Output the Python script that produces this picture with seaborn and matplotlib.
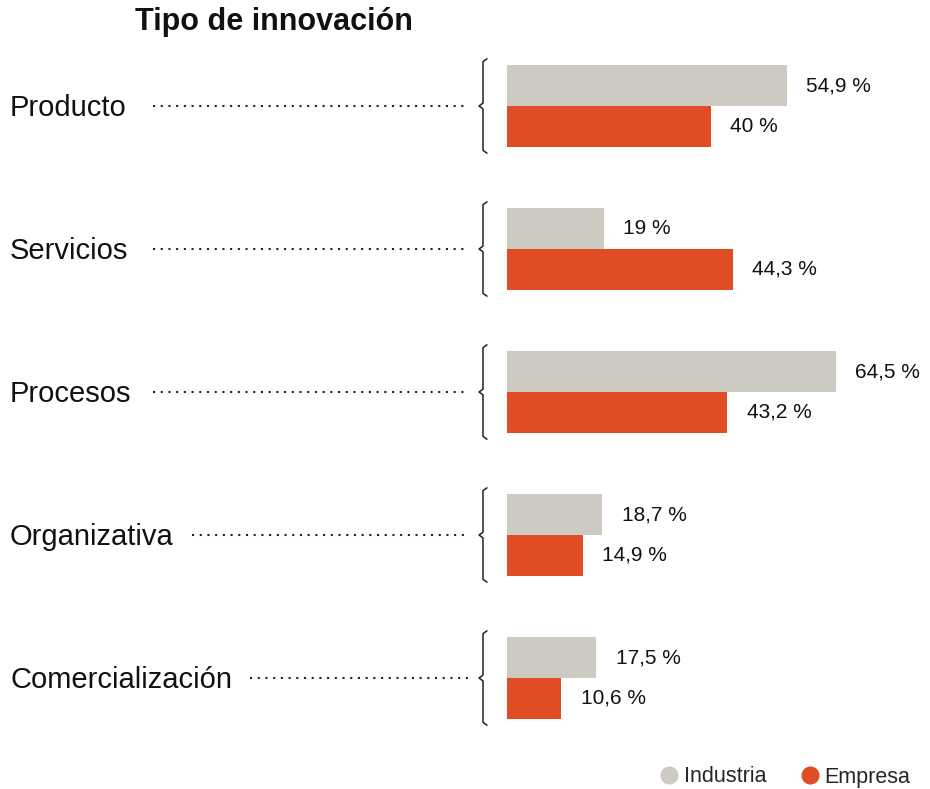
import numpy as np
import pandas as pd
import matplotlib
matplotlib.use("Agg")
import matplotlib.pyplot as plt
import matplotlib.transforms as mtransforms
from matplotlib.lines import Line2D
import seaborn as sns

# data
tipos = ["Producto", "Servicios", "Procesos", "Organizativa", "Comercialización"]
industria = [54.9, 19.0, 64.5, 18.7, 17.5]
empresa = [40.0, 44.3, 43.2, 14.9, 10.6]
series = ["Industria", "Empresa"]
colores = ["#CDCAC2", "#E04C24"]

df = pd.DataFrame({
    "tipo": tipos * 2,
    "valor": industria + empresa,
    "serie": [series[0]] * len(tipos) + [series[1]] * len(tipos),
})

sns.set_theme(style="white")
plt.rcParams["font.family"] = ["Liberation Sans", "DejaVu Sans"]

W, H = 930, 789
fig = plt.figure(figsize=(W / 100, H / 100), dpi=100)
ax = fig.add_axes([507 / W, 1 - 749.5 / H, 1 - 507 / W, 715 / H])

sns.barplot(data=df, y="tipo", x="valor", hue="serie", order=tipos,
            hue_order=series, palette=colores, orient="h", width=0.57,
            gap=0, saturation=1, legend=False, linewidth=0, ax=ax)

ax.set_xlim(0, (W - 507) / 5.1)
ax.set_ylim(4.5, -0.5)
ax.set_axis_off()

def fmt(v):
    return f"{v:g}".replace(".", ",") + " %"

for cont, vals in zip(ax.containers, [industria, empresa]):
    ax.bar_label(cont, labels=[fmt(v) for v in vals], padding=14,
                 fontsize=15, color="#111111")

# category labels, dotted leaders and braces
tr = mtransforms.blended_transform_factory(fig.transFigure, ax.transData)
fig.canvas.draw()
renderer = fig.canvas.get_renderer()
for i, t in enumerate(tipos):
    txt = ax.text(10 / W, i + 0.015, t, transform=tr, ha="left", va="center",
                  fontsize=21, color="#111111")
    ext = txt.get_window_extent(renderer)
    x0 = max(153, ext.x1 + 18) / W
    ax.plot([x0, 468 / W], [i, i], transform=tr, clip_on=False,
            color="#222222", lw=1.5, linestyle=(0, (1, 2.7)))
    # curly brace
    bx = 483 / W
    h = 4 / W
    d = 0.33
    ax.plot([bx + h, bx, bx, bx - h, bx, bx, bx + h],
            [i - d, i - d + 0.02, i - 0.02, i, i + 0.02, i + d - 0.02, i + d],
            transform=tr, clip_on=False, color="#222222", lw=1.1)

fig.text(135 / W, 1 - 22 / H, "Tipo de innovación", ha="left", va="center",
         fontsize=22, fontweight="bold", color="#111111")

handles = [Line2D([], [], marker="o", linestyle="none", markersize=12,
                  markerfacecolor=c, markeredgecolor=c) for c in colores]
fig.legend(handles, series, loc="center right", ncol=2, frameon=False,
           bbox_to_anchor=(1.0, 1 - 777 / H), fontsize=15.5,
           handletextpad=0.1, columnspacing=1.4, handlelength=1.2)

fig.savefig("out.png", dpi=100)
